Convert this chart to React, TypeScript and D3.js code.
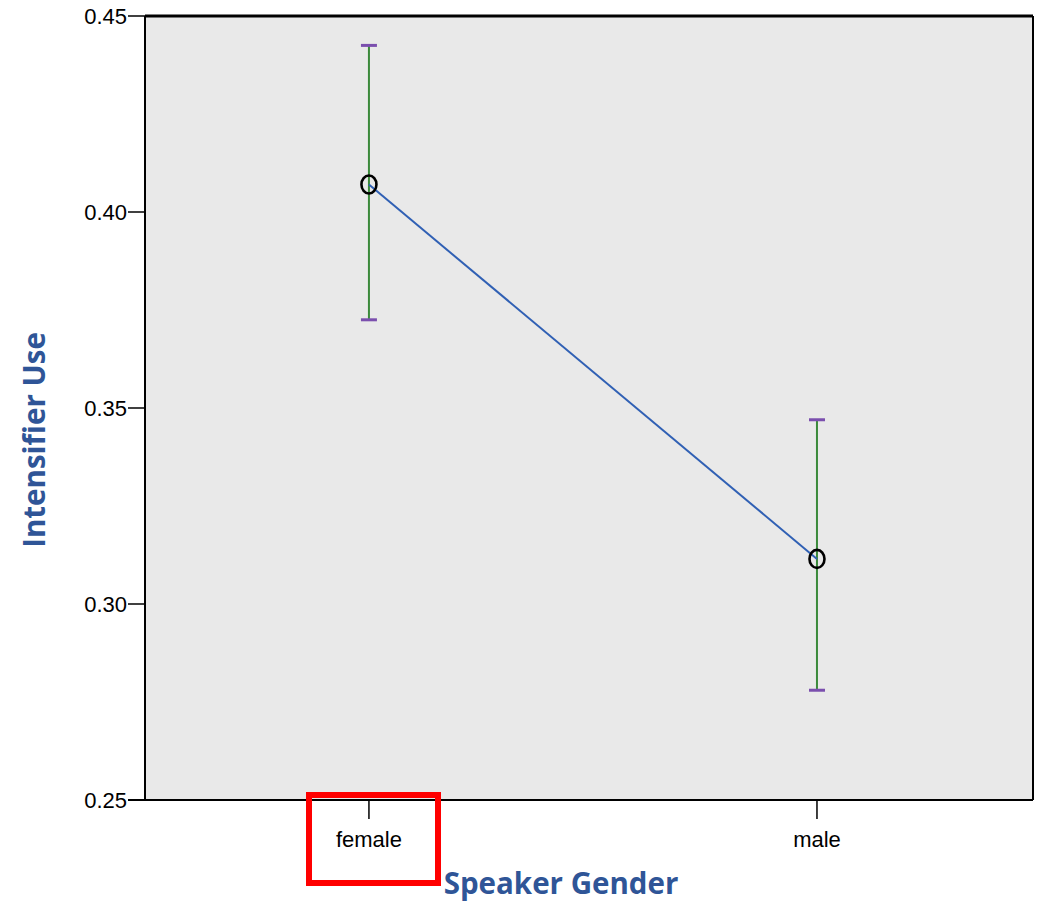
import * as d3 from "d3";
import React from "react";

const categories = ["female", "male"];
const means = [0.407, 0.3115];
const upper = [0.4425, 0.347];
const lower = [0.3725, 0.278];
const yTicks = [0.25, 0.3, 0.35, 0.4, 0.45];
const yTickLabels = ["0.25", "0.30", "0.35", "0.40", "0.45"];

const W = 1053;
const H = 903;
const left = 145;
const right = 1033;
const top = 16;
const bottom = 800;

export default function App() {
  const x = d3
    .scalePoint<string>()
    .domain(categories)
    .range([left, right])
    .padding(0.491)
    .align(0.509);
  const y = d3.scaleLinear().domain([0.25, 0.45]).range([bottom, top]);

  const line = d3
    .line<number>()
    .x((d, i) => x(categories[i]) as number)
    .y((d) => y(d));

  const tickFont = "'Liberation Sans Narrow', 'Liberation Sans', Arial, sans-serif";
  const titleFont = "'Open Sans', 'Noto Sans', sans-serif";
  const blue = "#2f5597";

  return (
    <svg width={W} height={H} style={{ position: "absolute", left: 0, top: 0 }}>
      <rect x={left} y={top} width={right - left} height={bottom - top} fill="#e9e9e9" />

      {/* y axis ticks */}
      {yTicks.map((t, i) => (
        <g key={t}>
          <line x1={left - 17} x2={left} y1={y(t)} y2={y(t)} stroke="#000" strokeWidth={1.5} />
          <text
            x={left - 18}
            y={y(t)}
            dy="0.35em"
            textAnchor="end"
            fontFamily={tickFont}
            fontSize={22}
            fill="#000"
          >
            {yTickLabels[i]}
          </text>
        </g>
      ))}

      {/* x axis ticks */}
      {categories.map((c) => (
        <g key={c}>
          <line x1={x(c)} x2={x(c)} y1={bottom} y2={bottom + 19} stroke="#000" strokeWidth={1.5} />
          <text
            x={x(c)}
            y={bottom + 47}
            textAnchor="middle"
            fontFamily={tickFont}
            fontSize={22}
            fill="#000"
          >
            {c}
          </text>
        </g>
      ))}

      {/* frame */}
      <line x1={left} x2={right} y1={top} y2={top} stroke="#000" strokeWidth={3} />
      <line x1={right} x2={right} y1={top} y2={bottom} stroke="#000" strokeWidth={2} />
      <line x1={left} x2={left} y1={top} y2={bottom} stroke="#000" strokeWidth={2} />
      <line x1={left - 17} x2={right} y1={bottom} y2={bottom} stroke="#000" strokeWidth={2} />

      {/* error bars */}
      {categories.map((c, i) => {
        const cx = x(c) as number;
        return (
          <g key={c}>
            <line x1={cx} x2={cx} y1={y(upper[i])} y2={y(lower[i])} stroke="#3b8a3b" strokeWidth={2} />
            <line x1={cx - 8} x2={cx + 8} y1={y(upper[i])} y2={y(upper[i])} stroke="#7b4fae" strokeWidth={3} />
            <line x1={cx - 8} x2={cx + 8} y1={y(lower[i])} y2={y(lower[i])} stroke="#7b4fae" strokeWidth={3} />
          </g>
        );
      })}

      <path d={line(means) ?? ""} fill="none" stroke="#3060b4" strokeWidth={2} />

      {categories.map((c, i) => (
        <ellipse
          key={c}
          cx={x(c)}
          cy={y(means[i])}
          rx={7.5}
          ry={9}
          fill="none"
          stroke="#000"
          strokeWidth={2.6}
        />
      ))}

      {/* red highlight box */}
      <rect x={309} y={795} width={129} height={88} fill="none" stroke="#ff0000" strokeWidth={6} />

      <text
        x={561}
        y={894}
        textAnchor="middle"
        fontFamily={titleFont}
        fontWeight="bold"
        fontSize={29.5}
        fill={blue}
      >
        Speaker Gender
      </text>
      <text
        transform={`translate(45, 440) rotate(-90)`}
        textAnchor="middle"
        fontFamily={titleFont}
        fontWeight="bold"
        fontSize={29.5}
        fill={blue}
      >
        Intensifier Use
      </text>
    </svg>
  );
}
